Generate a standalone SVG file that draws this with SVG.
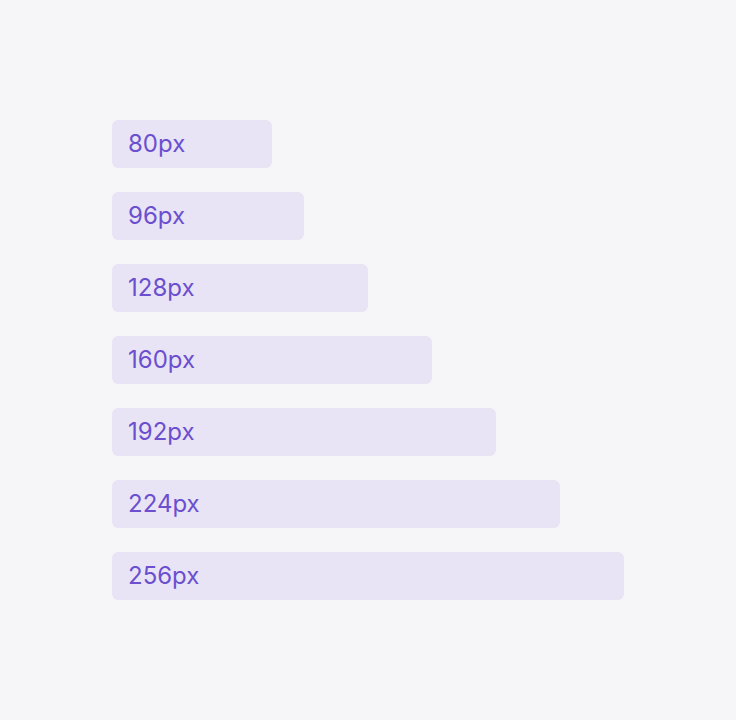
<svg xmlns="http://www.w3.org/2000/svg" width="736" height="720" viewBox="0 0 736 720">
<style>
.bar{fill:#e8e4f6}
.lbl{font-family:Inter,"Noto Sans",sans-serif;font-size:24px;fill:#6b4fcf}
</style>
<rect width="736" height="720" fill="#f6f6f9"/>
<g id="b80"><rect class="bar" x="112" y="120" width="160" height="48" rx="6"/><text class="lbl" x="128" y="152">80px</text></g>
<g id="b96"><rect class="bar" x="112" y="192" width="192" height="48" rx="6"/><text class="lbl" x="128" y="224">96px</text></g>
<g id="b128"><rect class="bar" x="112" y="264" width="256" height="48" rx="6"/><text class="lbl" x="128" y="296">128px</text></g>
<g id="b160"><rect class="bar" x="112" y="336" width="320" height="48" rx="6"/><text class="lbl" x="128" y="368">160px</text></g>
<g id="b192"><rect class="bar" x="112" y="408" width="384" height="48" rx="6"/><text class="lbl" x="128" y="440">192px</text></g>
<g id="b224"><rect class="bar" x="112" y="480" width="448" height="48" rx="6"/><text class="lbl" x="128" y="512">224px</text></g>
<g id="b256"><rect class="bar" x="112" y="552" width="512" height="48" rx="6"/><text class="lbl" x="128" y="584">256px</text></g>
</svg>
